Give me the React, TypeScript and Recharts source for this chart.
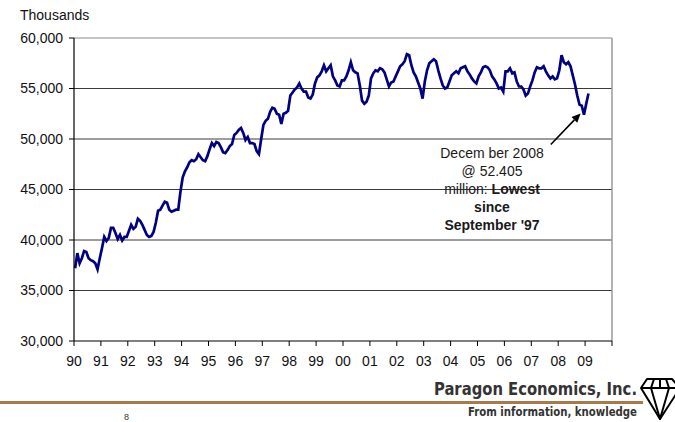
import React from 'react';
import { LineChart, Line, XAxis, YAxis, ReferenceLine } from 'recharts';

// monthly values, thousands, Jan 1990 - Feb 2009
const y1990 = [37200, 38700, 37700, 38200, 38900, 38800, 38200, 38000, 37900, 37700, 37100, 38200];
const y1991 = [39200, 40300, 39900, 40200, 41200, 41200, 40700, 40100, 40500, 39950, 40300, 40300];
const y1992 = [40900, 41500, 41100, 41300, 42100, 41900, 41500, 41000, 40500, 40300, 40400, 40800];
const y1993 = [41700, 42900, 43000, 43400, 43800, 43700, 43000, 42800, 42900, 43000, 43000, 44800];
const y1994 = [46200, 46800, 47200, 47700, 47900, 47800, 48000, 48500, 48200, 47900, 47800, 48300];
const y1995 = [49000, 49600, 49300, 49700, 49600, 49200, 48700, 48600, 48900, 49300, 49500, 50400];
const y1996 = [50600, 50900, 51100, 50600, 49900, 50200, 49600, 49600, 49500, 48800, 48500, 50000];
const y1997 = [51400, 51800, 52000, 52700, 53100, 53000, 52500, 52400, 51500, 52500, 52600, 52800];
const y1998 = [54300, 54600, 54900, 55100, 55500, 55000, 54700, 54700, 54100, 54000, 54400, 55500];
const y1999 = [56100, 56300, 56700, 57300, 56700, 57000, 57300, 56200, 55800, 55300, 55200, 55800];
const y2000 = [55800, 56200, 56800, 57600, 56800, 56600, 56500, 55300, 53800, 53500, 53700, 54300];
const y2001 = [56000, 56500, 56800, 56700, 57000, 56900, 56600, 55900, 55200, 55600, 55700, 56200];
const y2002 = [56700, 57200, 57400, 57700, 58400, 58300, 57300, 56600, 56200, 55600, 55000, 54000];
const y2003 = [55700, 56800, 57500, 57700, 57900, 57700, 56800, 56000, 55300, 55000, 55100, 55700];
const y2004 = [56300, 56500, 56700, 56500, 57000, 57100, 57200, 56700, 56400, 56000, 55700, 55500];
const y2005 = [56200, 56600, 57100, 57200, 57100, 56800, 56200, 55900, 55500, 55000, 55100, 54700];
const y2006 = [56700, 56700, 57000, 56500, 56600, 55700, 55200, 55200, 54900, 54300, 54500, 55200];
const y2007 = [55800, 56600, 57100, 57000, 57000, 57200, 56700, 56300, 56000, 56200, 55900, 56000];
const y2008 = [56800, 58300, 57600, 57400, 57600, 57200, 56300, 55400, 54300, 53400, 53300, 52405];
const y2009 = [53500, 54500];

const yearLabels = ['90', '91', '92', '93', '94', '95', '96', '97', '98', '99',
  '00', '01', '02', '03', '04', '05', '06', '07', '08', '09'];
const yTicks = [30000, 35000, 40000, 45000, 50000, 55000, 60000];
const gridValues = [35000, 40000, 45000, 50000, 55000];

const values = [
  ...y1990, ...y1991, ...y1992, ...y1993, ...y1994, ...y1995, ...y1996,
  ...y1997, ...y1998, ...y1999, ...y2000, ...y2001, ...y2002, ...y2003,
  ...y2004, ...y2005, ...y2006, ...y2007, ...y2008, ...y2009,
];

// points sit in the middle of each month slot
const data = values.map((v, i) => ({ month: i + 0.5, value: v }));
const xTicks = [...yearLabels.map((_, i) => i * 12), yearLabels.length * 12];

const arrowFrom = { x: 212.7, y: 49460 };
const arrowTo = { x: 226, y: 52535 };

const FONT = '"Liberation Sans", Arial, Helvetica, sans-serif';
const LOGO_FONT = '"DejaVu Sans Condensed", "DejaVu Sans", sans-serif';

const Arrow = (props: any) => {
  const { x1, y1, x2, y2 } = props;
  const dx = x2 - x1;
  const dy = y2 - y1;
  const len = Math.sqrt(dx * dx + dy * dy);
  const ux = dx / len;
  const uy = dy / len;
  const head = 9;
  const bx = x2 - ux * head;
  const by = y2 - uy * head;
  const px = -uy * 4;
  const py = ux * 4;
  return (
    <g>
      <line x1={x1} y1={y1} x2={bx} y2={by} stroke="#000" strokeWidth={1.6} />
      <polygon points={`${x2},${y2} ${bx + px},${by + py} ${bx - px},${by - py}`} fill="#000" />
    </g>
  );
};

export default function App() {
  return (
    <div style={{ position: 'fixed', left: 0, top: 0, width: 675, height: 422, overflow: 'hidden', background: '#fff' }}>
      <LineChart
        width={675}
        height={371}
        data={data}
        margin={{ top: 38, right: 63, left: 0, bottom: 0 }}
      >
        <XAxis
          dataKey="month"
          type="number"
          domain={[0, 240]}
          ticks={xTicks}
          interval={0}
          height={30}
          tickSize={5}
          tickMargin={10}
          tickFormatter={(t: number) => yearLabels[t / 12] ?? ''}
          axisLine={{ stroke: '#000', strokeWidth: 1.2 }}
          tickLine={{ stroke: '#000' }}
          tick={{ fill: '#111', fontSize: 14, fontFamily: FONT }}
        />
        <YAxis
          domain={[30000, 60000]}
          ticks={yTicks}
          interval={0}
          width={74}
          tickSize={5}
          tickMargin={6}
          tickFormatter={(v: number) => v.toLocaleString('en-US')}
          axisLine={{ stroke: '#000', strokeWidth: 1.2 }}
          tickLine={{ stroke: '#000' }}
          tick={{ fill: '#111', fontSize: 14, fontFamily: FONT }}
        />
        {gridValues.map((g) => (
          <ReferenceLine key={g} y={g} stroke="#3a3a3a" strokeWidth={1} />
        ))}
        <ReferenceLine y={60000} stroke="#8a8a8a" strokeWidth={1.2} />
        <ReferenceLine x={240} stroke="#9a9a9a" strokeWidth={1.5} />
        <Line
          type="linear"
          dataKey="value"
          stroke="#000080"
          strokeWidth={2.7}
          dot={false}
          isAnimationActive={false}
        />
        <ReferenceLine segment={[arrowFrom, arrowTo]} shape={Arrow} />
      </LineChart>
      <svg
        width={675}
        height={422}
        style={{ position: 'absolute', left: 0, top: 0, pointerEvents: 'none' }}
        fontFamily={FONT}
      >
        <text x={20} y={20} fontSize={14} fill="#111">Thousands</text>
        <g fontSize={14} fill="#1a1a1a" textAnchor="middle">
          <text x={492} y={158}>Decem ber 2008</text>
          <text x={492} y={176}>@ 52.405</text>
          <text x={492} y={194}>
            million: <tspan fontWeight="bold">Lowest</tspan>
          </text>
          <text x={492} y={212} fontWeight="bold">since</text>
          <text x={492} y={230} fontWeight="bold">September '97</text>
        </g>
        <text
          x={434}
          y={395}
          fontSize={17}
          fontWeight="bold"
          fill="#333"
          fontFamily={LOGO_FONT}
          textLength={203}
          lengthAdjust="spacingAndGlyphs"
        >
          Paragon Economics, Inc.
        </text>
        <rect x={0} y={401} width={643} height={3} fill="#A87A4A" />
        <text
          x={468}
          y={416}
          fontSize={12}
          fontWeight="bold"
          fill="#333"
          fontFamily={LOGO_FONT}
          textLength={169}
          lengthAdjust="spacingAndGlyphs"
        >
          From information, knowledge
        </text>
        <text x={124} y={420} fontSize={9} fill="#333">8</text>
        <g stroke="#000" strokeWidth={2} fill="none" strokeLinejoin="round">
          <path d="M647,379 L672,379 L680,388 L660,419 L641,388 Z" />
          <path d="M641,388 L680,388" />
          <path d="M654,379 L651,388 L660,419 L669,388 L666,379" />
          <path d="M660,379 L660,388" />
        </g>
      </svg>
    </div>
  );
}
